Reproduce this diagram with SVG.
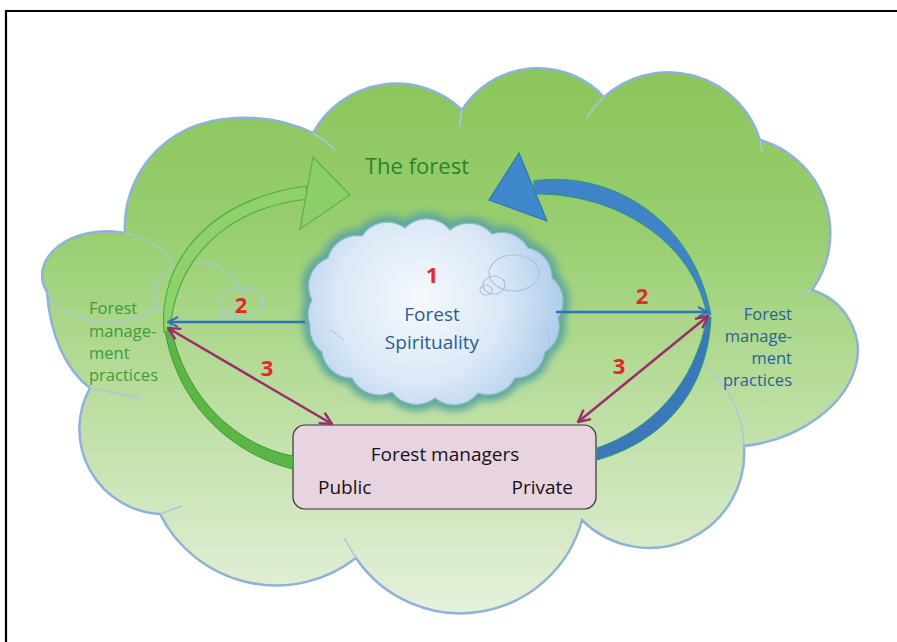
<svg xmlns="http://www.w3.org/2000/svg" width="897" height="642" viewBox="0 0 897 642">
<style>
.frame{stroke:#000;stroke-width:2.2;fill:none}
.cloudline{fill:none;stroke:#a9c6e2;stroke-width:1.5}
.t{font-family:"Open Sans","Noto Sans","DejaVu Sans",sans-serif}
.num{font-family:"Open Sans","Noto Sans",sans-serif;font-weight:bold;font-size:22px;fill:#e8262a;text-anchor:middle}
.green{fill:#3c9c37;font-size:16.5px}
.blue{fill:#2b5fa0;font-size:16.5px}
.blk{fill:#141414;font-size:19px}
</style>
<defs>
<linearGradient id="gForest" x1="0" y1="68" x2="0" y2="615" gradientUnits="userSpaceOnUse">
<stop offset="0" stop-color="#8bc55a"/>
<stop offset="0.3" stop-color="#98ce70"/>
<stop offset="0.55" stop-color="#b5db97"/>
<stop offset="1" stop-color="#e6f1dd"/>
</linearGradient>
<radialGradient id="gSpirit" cx="420" cy="300" r="150" gradientUnits="userSpaceOnUse">
<stop offset="0" stop-color="#f6f9fd"/>
<stop offset="0.55" stop-color="#dbe8f6"/>
<stop offset="1" stop-color="#a9c9ea"/>
</radialGradient>
<filter id="blur" x="-20%" y="-20%" width="140%" height="140%">
<feGaussianBlur stdDeviation="3.5"/>
</filter>
<marker id="chevB" viewBox="0 0 12 12" refX="11" refY="6" markerWidth="12" markerHeight="12" markerUnits="userSpaceOnUse" orient="auto-start-reverse">
<path d="M1,1 L11,6 L1,11" fill="none" stroke="#2f72bd" stroke-width="2"/>
</marker>
<marker id="chevP" viewBox="0 0 14 14" refX="13" refY="7" markerWidth="14" markerHeight="14" markerUnits="userSpaceOnUse" orient="auto-start-reverse">
<path d="M1,1 L13,7 L1,13" fill="none" stroke="#9b2d6b" stroke-width="2.4"/>
</marker>
</defs>
<rect x="0" y="0" width="897" height="642" fill="#fff"/>
<path class="frame" d="M6,642 L6,11 L897,11"/>

<g id="forest">
<path d="M90,388 C66,370 50,335 47,292 A65 44 0 0 1 125,233 C122,180 160,122 235,118 C270,116 295,124 313,133 A95 95 0 0 1 462,110 A90 90 0 0 1 604,97 A96 96 0 0 1 760,140 A97 97 0 0 1 812,290 C845,300 864,335 856,365 C846,405 800,440 744,446 A95 95 0 0 1 582,520 A126 126 0 0 1 356,558 A130 130 0 0 1 160,514 A85 85 0 0 1 90,388 Z" fill="url(#gForest)" stroke="#8eb2d8" stroke-width="2.5"/>
<path class="cloudline" d="M313,133 Q325,140 335,150 M462,110 Q460,118 460,126 M604,97 Q594,106 587,118 M760,140 L762,152 M812,290 L800,295 M744,446 Q742,395 700,362 M356,558 L344,538 M160,514 L182,506 M90,388 L140,398"/>
<path class="cloudline" d="M125,233 A65 44 0 0 1 172,266 M47,292 A65 44 0 0 0 160,305" opacity="0.8"/>
<ellipse class="cloudline" cx="197" cy="293" rx="43" ry="30" opacity="0.8"/>
<ellipse class="cloudline" cx="241" cy="303" rx="22" ry="15" opacity="0.8"/>
<text class="t" x="417" y="174" font-size="22" fill="#2c822d" text-anchor="middle">The forest</text>
</g>

<g id="spirituality">
<path d="M312,300 A30 30 0 0 1 328,258 A30 30 0 0 1 362,236 A30 30 0 0 1 405,228 A30 30 0 0 1 450,230 A30 30 0 0 1 492,234 A30 30 0 0 1 528,248 A30 30 0 0 1 552,278 A30 30 0 0 1 558,318 A30 30 0 0 1 545,352 A30 30 0 0 1 515,378 A30 30 0 0 1 478,393 A30 30 0 0 1 435,398 A30 30 0 0 1 392,392 A30 30 0 0 1 352,378 A30 30 0 0 1 322,352 A30 30 0 0 1 310,325 A30 30 0 0 1 312,300 Z" fill="none" stroke="#5fa89c" stroke-width="13" filter="url(#blur)"/>
<path d="M312,300 A30 30 0 0 1 328,258 A30 30 0 0 1 362,236 A30 30 0 0 1 405,228 A30 30 0 0 1 450,230 A30 30 0 0 1 492,234 A30 30 0 0 1 528,248 A30 30 0 0 1 552,278 A30 30 0 0 1 558,318 A30 30 0 0 1 545,352 A30 30 0 0 1 515,378 A30 30 0 0 1 478,393 A30 30 0 0 1 435,398 A30 30 0 0 1 392,392 A30 30 0 0 1 352,378 A30 30 0 0 1 322,352 A30 30 0 0 1 310,325 A30 30 0 0 1 312,300 Z" fill="url(#gSpirit)" stroke="#8cbcc6" stroke-width="1.2"/>
<ellipse cx="514" cy="273" rx="25" ry="18" fill="none" stroke="#a9c4e0" stroke-width="1.2"/>
<ellipse cx="494" cy="285" rx="11" ry="9" fill="none" stroke="#a9c4e0" stroke-width="1.2"/>
<ellipse cx="486" cy="290" rx="6" ry="5" fill="none" stroke="#a9c4e0" stroke-width="1.2"/>
<path d="M545,325 Q552,340 548,350 M330,330 Q338,334 344,340" fill="none" stroke="#a9c4e0" stroke-width="1"/>
<text class="num" x="432" y="283">1</text>
<text class="t" x="432" y="321" font-size="19" fill="#2a5c9a" text-anchor="middle">Forest</text>
<text class="t" x="432" y="349" font-size="19" fill="#2a5c9a" text-anchor="middle">Spirituality</text>
</g>

<g id="managers">
<rect x="293" y="425" width="303" height="84" rx="12" fill="#e8d3e1" stroke="#333" stroke-width="1.2"/>
<text class="t blk" x="445" y="461" text-anchor="middle">Forest managers</text>
<text class="t blk" x="318" y="494">Public</text>
<text class="t blk" x="573" y="494" text-anchor="end">Private</text>
</g>

<g id="practices-left">
<text class="t green" x="89" y="314">Forest</text>
<text class="t green" x="89" y="337">manage-</text>
<text class="t green" x="89" y="359">ment</text>
<text class="t green" x="89" y="381">practices</text>
</g>

<g id="practices-right">
<text class="t blue" x="792" y="320" text-anchor="end">Forest</text>
<text class="t blue" x="792" y="342" text-anchor="end">manage-</text>
<text class="t blue" x="792" y="364" text-anchor="end">ment</text>
<text class="t blue" x="792" y="386" text-anchor="end">practices</text>
</g>

<g id="connectors">
<!-- green curved arrow (left) -->
<path d="M293,469 C238,456 178,410 165,330 L171,326 C184,398 238,446 293,456 Z" fill="#5cb545" stroke="#3e9a36" stroke-width="1"/>
<path d="M164,332 C158,262 208,200 306,186 L308,199 C226,208 176,258 170,330 Z" fill="#8fd26b" stroke="#4fae42" stroke-width="1.2"/>
<path d="M313,157 L350,195 L300,229 Z" fill="#8ccf68" stroke="#58b447" stroke-width="1.2"/>
<!-- blue curved arrow (right) -->
<path d="M534,181 C602,170 692,212 711,315 L707,315 C692,240 615,193 534,194 Z" fill="#3f83c8" stroke="#2a9a72" stroke-width="1"/>
<path d="M711,317 C708,392 662,442 597,460 L597,448 C650,430 695,385 707,317 Z" fill="#3a78ba" stroke="#2aa070" stroke-width="1"/>
<path d="M519,153 L547,221 L489,200 Z" fill="#4088cc" stroke="#2f78b8" stroke-width="1.2"/>
<!-- relation lines -->
<path d="M305,322 L168,322" stroke="#2f72bd" stroke-width="2.5" fill="none" marker-end="url(#chevB)"/>
<path d="M556,312 L708,312" stroke="#2f72bd" stroke-width="2.5" fill="none" marker-end="url(#chevB)"/>
<path d="M168,328 L332,424" stroke="#9b2d6b" stroke-width="2.5" fill="none" marker-start="url(#chevP)" marker-end="url(#chevP)"/>
<path d="M708,316 L578,422" stroke="#9b2d6b" stroke-width="2.5" fill="none" marker-start="url(#chevP)" marker-end="url(#chevP)"/>
<text class="num" x="241" y="313">2</text>
<text class="num" x="642" y="304">2</text>
<text class="num" x="267" y="376">3</text>
<text class="num" x="619" y="374">3</text>
</g>
</svg>
